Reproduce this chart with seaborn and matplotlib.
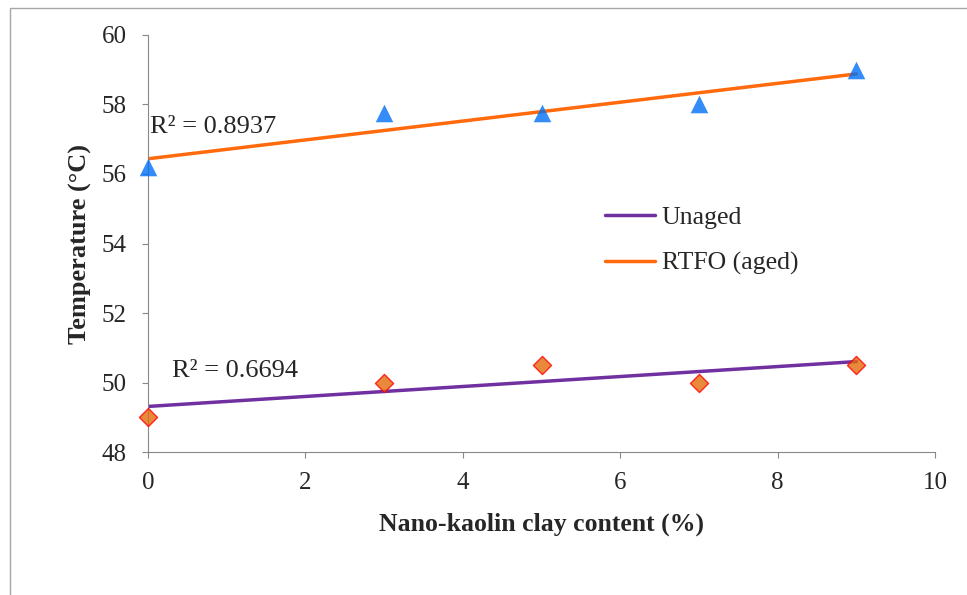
import matplotlib
matplotlib.use("Agg")
import matplotlib.pyplot as plt
import matplotlib.patches as mpatches
import seaborn as sns

# Data
clay_content = [0, 3, 5, 7, 9]
unaged_temp = [49.0, 50.0, 50.5, 50.0, 50.5]
rtfo_temp = [56.2, 57.75, 57.75, 58.0, 59.0]
x_ticks = [0, 2, 4, 6, 8, 10]
y_ticks = [48, 50, 52, 54, 56, 58, 60]


def plot_softening_point():
    sns.set_style("ticks")
    plt.rcParams['font.family'] = ['Liberation Serif', 'DejaVu Serif']

    fig = plt.figure(figsize=(9.67, 5.95), dpi=100)
    ax = fig.add_axes([0.153, 0.2403, 0.814, 0.7009])

    # outer chart border (only top and left visible)
    fig.patches.append(mpatches.Rectangle(
        (0.0103, -0.2), 1.2, 1.1866, transform=fig.transFigure,
        fill=False, edgecolor='#a6a6a6', lw=1.0))

    sns.regplot(x=clay_content, y=unaged_temp, ax=ax, ci=None, marker='D',
                scatter_kws=dict(color='#E46C0A', edgecolors='#FF0000',
                                 linewidths=1.0, s=85, zorder=3, clip_on=False),
                line_kws=dict(color='#7030A0', lw=2.5, label='Unaged', zorder=2))
    sns.regplot(x=clay_content, y=rtfo_temp, ax=ax, ci=None, marker='^',
                scatter_kws=dict(color='#0070F5', s=160, linewidths=0, zorder=3,
                                 clip_on=False),
                line_kws=dict(color='#FF6A0D', lw=2.5, label='RTFO (aged)', zorder=2))

    ax.text(0.03, 57.35, 'R² = 0.8937', fontsize=19, va='center', ha='left')
    ax.text(0.3, 50.33, 'R² = 0.6694', fontsize=19, va='center', ha='left')

    ax.set_xlim(0, 10)
    ax.set_ylim(48, 60)
    ax.set_xticks(x_ticks)
    ax.set_yticks(y_ticks)
    ax.tick_params(labelsize=18, length=4.5, color='#888888', direction='out')
    ax.tick_params(axis='y', pad=11)
    ax.tick_params(axis='x', pad=10)
    for side in ['left', 'bottom']:
        ax.spines[side].set_color('#888888')
    sns.despine(ax=ax)

    ax.set_xlabel('Nano-kaolin clay content (%)', fontsize=18.5, fontweight='bold', labelpad=13)
    ax.set_ylabel('Temperature (°C)', fontsize=19, fontweight='bold', labelpad=7)

    handles = [l for l in ax.lines if l.get_label() in ('Unaged', 'RTFO (aged)')]
    ax.legend(handles=handles, loc='upper left', bbox_to_anchor=(0.551, 0.646),
              frameon=False, fontsize=18.5, handlelength=1.95, handletextpad=0.27,
              labelspacing=0.9)

    fig.savefig('out.png', dpi=100)


if __name__ == "__main__":
    plot_softening_point()
